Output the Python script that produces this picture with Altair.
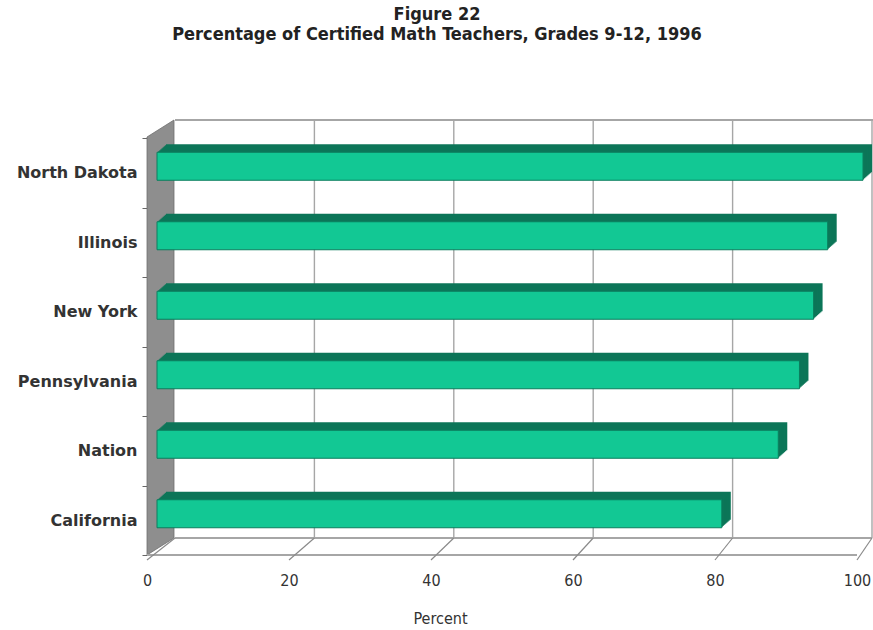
import altair as alt
import pandas as pd

# ---- data -------------------------------------------------------------
states = ["North Dakota", "Illinois", "New York", "Pennsylvania", "Nation", "California"]
percent = [100, 95, 93, 91, 88, 80]
x_ticks = [0, 20, 40, 60, 80, 100]

# ---- geometry of the pseudo-3D frame -----------------------------------
W, H = 710, 417                 # front plane (axis) size in px
DEPTH_DX, DEPTH_DY = 27, -17    # shift from the front plane to the back wall
BACK_RANGE = [28, 725]          # back wall pixel range for 0..100
BAR_RANGE = [10, 716]           # pixel range for the plane the bars sit in
BAR_SIZE = 28
BAR_DY = -6.5
EXTRUDE_DX, EXTRUDE_DY, EXTRUDE_STEPS = 9, -8, 8

FACE = "#12c894"
FACE_EDGE = "#0b7e5e"
TOP = "#0c7658"
WALL = "#8e8e8e"
GRID = "#a6a6a6"
NARROW = "DejaVu Sans Condensed, Liberation Sans, sans-serif"

bars_df = pd.DataFrame({"state": states, "pct": percent})
grid_df = pd.DataFrame({"v": x_ticks})
wall_df = pd.DataFrame({"d": [0, 1]})

front_slope = W / 100.0
back_slope = (BACK_RANGE[1] - BACK_RANGE[0]) / 100.0

x_front = alt.Scale(domain=[0, 100], range=[0, W], nice=False, zero=True)
x_back = alt.Scale(domain=[0, 100], range=BACK_RANGE, nice=False, zero=True)
x_bar = alt.Scale(domain=[0, 100], range=BAR_RANGE, nice=False, zero=True)
y_band = alt.Scale(domain=states, paddingInner=0, paddingOuter=0)
px_x = alt.Scale(domain=[0, W], range=[0, W], nice=False, zero=False)
px_y = alt.Scale(domain=[0, H], range=[0, H], nice=False, zero=False)

# left (gray) wall, a slanted panel between front and back planes
wall = alt.Chart(wall_df).transform_calculate(
    px=f"datum.d * {DEPTH_DX}",
    top=f"-1 + datum.d * {DEPTH_DY}",
    bot=f"{H} + datum.d * {DEPTH_DY}",
).mark_area(color=WALL, opacity=1, stroke="#6f6f6f", strokeWidth=0.8).encode(
    x=alt.X("px:Q", scale=px_x, axis=None),
    y=alt.Y("top:Q", scale=px_y, axis=None),
    y2="bot:Q",
)

# back wall gridlines
back_grid = alt.Chart(grid_df).transform_filter("datum.v > 0").mark_rule(
    color=GRID, strokeWidth=1.4
).encode(
    x=alt.X("v:Q", scale=x_back, axis=None),
    y=alt.value(DEPTH_DY - 1),
    y2=alt.value(H + DEPTH_DY),
)

# top edge of the back wall
back_top = alt.Chart(grid_df).mark_rule(color=GRID, strokeWidth=1.4).encode(
    x=alt.value(BACK_RANGE[0]), x2=alt.value(BACK_RANGE[1] + 2), y=alt.value(DEPTH_DY - 1)
)

# floor: back edge and front edge
floor_back = alt.Chart(grid_df).mark_rule(color=GRID, strokeWidth=1.4).encode(
    x=alt.value(BACK_RANGE[0]), x2=alt.value(BACK_RANGE[1]), y=alt.value(H + DEPTH_DY)
)
floor_front = alt.Chart(grid_df).mark_rule(color=GRID, strokeWidth=1.6).encode(
    x=alt.value(0), x2=alt.value(W), y=alt.value(H)
)

# floor connectors from each front tick to the matching back gridline,
# carrying the visible percent axis
connectors = alt.Chart(grid_df).transform_calculate(
    vb=f"({BACK_RANGE[0]} + datum.v * {back_slope}) / {front_slope}"
).mark_rule(color="#8a8a8a", strokeWidth=1.2).encode(
    x=alt.X(
        "v:Q",
        scale=x_front,
        axis=alt.Axis(
            values=x_ticks,
            title="Percent",
            grid=False,
            domain=False,
            ticks=False,
            labelFlush=False,
            labelPadding=17,
            labelFont=NARROW,
            labelFontSize=16,
            labelColor="#333333",
            labelBaseline="top",
            titleFont=NARROW,
            titleFontSize=16,
            titleFontWeight="normal",
            titleColor="#333333",
            titleX=293,
            titleY=63,
            titleBaseline="middle",
            titleAnchor="start",
            titleAlign="center",
        ),
    ),
    x2="vb:Q",
    y=alt.value(H + 5),
    y2=alt.value(H + DEPTH_DY),
)

y_axis = alt.Axis(
    title=None,
    domain=False,
    ticks=True,
    tickBand="extent",
    tickSize=5,
    tickColor="#666666",
    labelPadding=5,
    labelFont="DejaVu Sans",
    labelFontWeight="bold",
    labelFontSize=16,
    labelColor="#333333",
)

# bar extrusion (top and right faces), drawn as stacked offsets behind the face
extrusions = []
for k in range(EXTRUDE_STEPS, 0, -1):
    t = k / EXTRUDE_STEPS
    extrusions.append(
        alt.Chart(bars_df).mark_bar(
            color=TOP,
            size=BAR_SIZE,
            xOffset=EXTRUDE_DX * t,
            yOffset=BAR_DY + EXTRUDE_DY * t,
        ).encode(
            x=alt.X("pct:Q", scale=x_bar, axis=None),
            y=alt.Y("state:N", scale=y_band, sort=states, axis=y_axis),
        )
    )

faces = alt.Chart(bars_df).mark_bar(
    color=FACE, size=BAR_SIZE, yOffset=BAR_DY, stroke=FACE_EDGE, strokeWidth=1
).encode(
    x=alt.X("pct:Q", scale=x_bar, axis=None),
    y=alt.Y("state:N", scale=y_band, sort=states, axis=y_axis),
    tooltip=["state:N", "pct:Q"],
)

bars = alt.layer(*extrusions, faces)

chart = (
    alt.layer(wall, back_grid, back_top, floor_back, floor_front, connectors, bars)
    .resolve_scale(x="independent", y="independent")
    .properties(
        width=W,
        height=H,
        autosize="none",
        padding={"left": 147, "top": 138, "right": 16, "bottom": 75},
        title=alt.TitleParams(
            text=["Figure 22", "Percentage of Certified Math Teachers, Grades 9-12, 1996"],
            font=NARROW,
            fontSize=18,
            fontWeight="bold",
            color="#222222",
            anchor="middle",
            dx=-65,
            offset=74,
            lineHeight=20,
        ),
    )
    .configure(background="white")
    .configure_view(stroke=None)
)

chart.save("out.html", embed_options={"renderer": "svg", "actions": False})
